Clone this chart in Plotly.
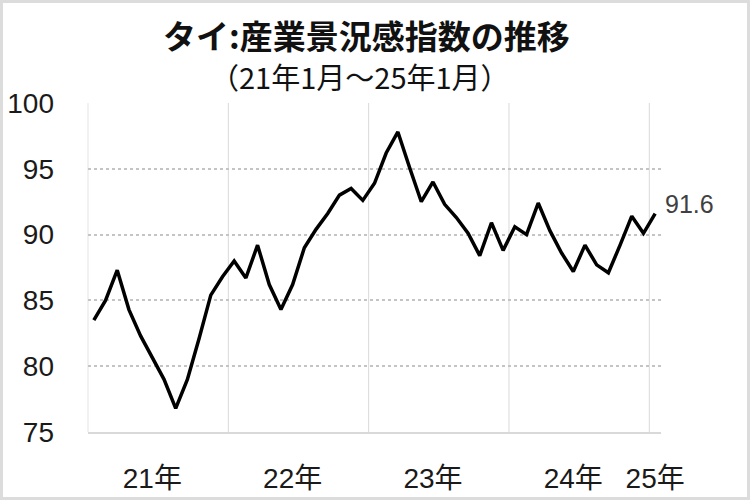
import plotly.graph_objects as go

months = [f"{y}-{m:02d}" for y in range(2021, 2025) for m in range(1, 13)] + ["2025-01"]
values = [83.5, 85.0, 87.3, 84.3, 82.3, 80.7, 79.0, 76.8, 79.0, 82.1, 85.4, 86.8,
          88.0, 86.7, 89.2, 86.2, 84.3, 86.2, 89.0, 90.4, 91.6, 93.0, 93.5, 92.6,
          93.9, 96.2, 97.8, 95.1, 92.5, 94.0, 92.3, 91.3, 90.1, 88.4, 90.9, 88.8,
          90.6, 90.0, 92.4, 90.3, 88.6, 87.2, 89.2, 87.7, 87.1, 89.2, 91.4, 90.1, 91.6]
year_labels = ["21年", "22年", "23年", "24年", "25年"]
year_label_months = ["2021-06", "2022-06", "2023-06", "2024-06", "2025-01"]
y_ticks = [75, 80, 85, 90, 95, 100]
title_text = "<b>タイ:産業景況感指数の推移</b>"
subtitle_text = "（21年1月～25年1月）"

x = list(range(len(months)))
tick_pos = [months.index(m) for m in year_label_months]
# year boundaries: between December and January
boundaries = [i - 0.5 for i, m in enumerate(months) if m.endswith("-01") and i > 0]

font_main = "Liberation Sans, Noto Sans CJK JP, sans-serif"

fig = go.Figure()
fig.add_trace(go.Scatter(x=x, y=values, mode="lines",
                         line=dict(color="black", width=3.5), hoverinfo="skip"))

shapes = []
for b in boundaries:
    shapes.append(dict(type="line", xref="x", yref="paper", x0=b, x1=b, y0=0, y1=1,
                       line=dict(color="#d9d9d9", width=1), layer="below"))
# left axis line
shapes.append(dict(type="line", xref="paper", yref="paper", x0=0, x1=0, y0=0, y1=1,
                   line=dict(color="#e3e3e3", width=1), layer="below"))
# outer border
W, H = 750, 500
L, R, T, B = 88, 89, 103, 68
pw, ph = W - L - R, H - T - B
def px(xp): return (xp - L) / pw
def py(yp): return (H - B - yp) / ph
shapes.append(dict(type="rect", xref="paper", yref="paper",
                   x0=px(1.5), x1=px(748.5), y0=py(1.5), y1=py(498.5),
                   line=dict(color="#dcdcdc", width=3)))

fig.update_layout(
    width=W, height=H,
    margin=dict(l=L, r=R, t=T, b=B, pad=0, autoexpand=False),
    paper_bgcolor="white", plot_bgcolor="white",
    showlegend=False,
    shapes=shapes,
    xaxis=dict(range=[-0.5, len(months) - 0.5], tickmode="array",
               tickvals=tick_pos, ticktext=year_labels, showgrid=False,
               zeroline=False, showline=True, linecolor="#d9d9d9", linewidth=2,
               ticks="", ticklabelstandoff=20, automargin=False,
               tickfont=dict(family=font_main, size=28, color="#1a1a1a")),
    yaxis=dict(range=[75, 100], tickmode="array", tickvals=y_ticks,
               showgrid=True, gridcolor="#c4c4c4", griddash="dot", gridwidth=1.5,
               zeroline=False, showline=False, ticks="", ticklabelstandoff=33,
               automargin=False,
               tickfont=dict(family=font_main, size=28, color="#1a1a1a")),
    annotations=[
        dict(text=title_text, xref="paper", yref="paper", x=px(366), y=py(35),
             xanchor="center", yanchor="middle", showarrow=False,
             font=dict(family="Noto Sans CJK JP", size=33, color="#111")),
        dict(text=subtitle_text, xref="paper", yref="paper", x=px(360), y=py(76),
             xanchor="center", yanchor="middle", showarrow=False,
             font=dict(family="Noto Sans CJK JP", size=29, color="#111")),
        dict(text=f"{values[-1]:.1f}", x=x[-1], y=values[-1], xref="x", yref="y",
             xanchor="left", yanchor="middle", xshift=8, yshift=10, showarrow=False,
             font=dict(family="Liberation Sans, sans-serif", size=25, color="#404040")),
    ],
)
fig.write_html("out.html", config={"displayModeBar": False},
               post_script="document.body.style.margin='0';")
